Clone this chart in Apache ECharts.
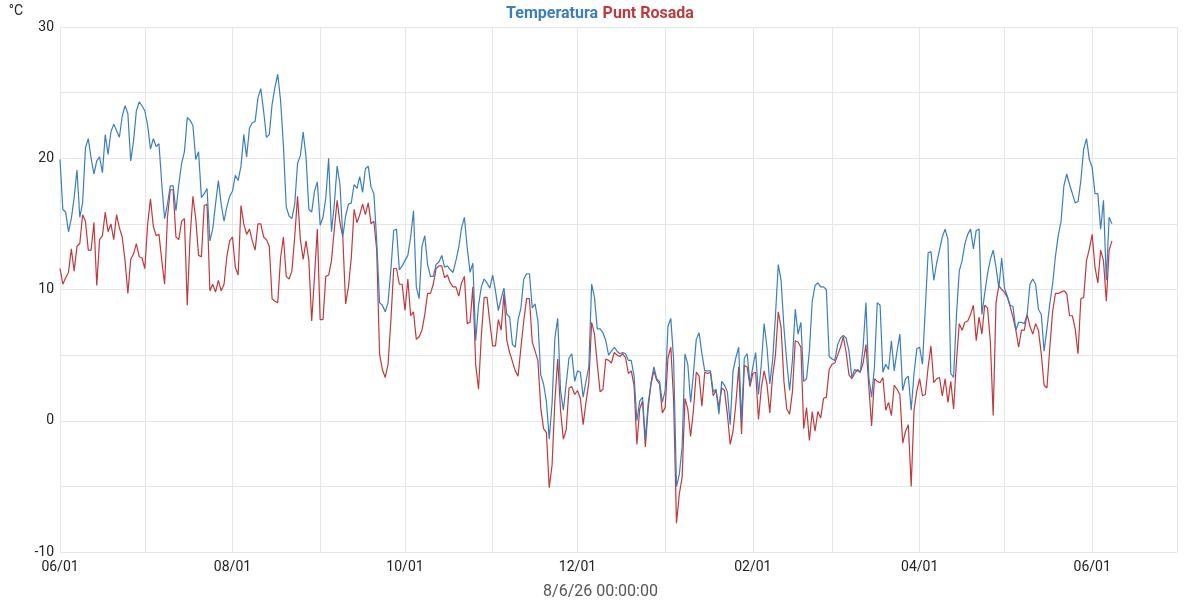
<!DOCTYPE html>
<html>
<head>
<meta charset="utf-8">
<script src="https://cdn.jsdelivr.net/npm/echarts@6/dist/echarts.min.js"></script>
<style>
  html, body { margin: 0; padding: 0; background: #fff; }
  #chart { width: 1200px; height: 600px; }
</style>
</head>
<body>
<div id="chart"></div>
<script>
// daily readings, first one on 2025-06-01
const startDay = [2025, 5, 1];

const temperatura = [
  19.9, 16.1, 15.9, 14.4, 15.4, 17.0, 19.1, 15.5, 16.6, 20.8,
  21.5, 20.0, 18.8, 19.8, 20.1, 18.9, 21.8, 20.3, 22.0, 22.6,
  22.1, 21.6, 23.2, 24.0, 23.4, 19.8, 21.3, 23.6, 24.3, 24.0,
  23.6, 22.5, 20.7, 21.5, 20.9, 21.1, 18.0, 15.4, 16.5, 17.9,
  17.9, 16.0, 18.0, 19.6, 20.5, 23.1, 22.9, 22.5, 19.9, 20.5,
  17.0, 17.3, 17.7, 13.7, 14.6, 16.5, 18.3, 16.5, 15.2, 16.3,
  17.1, 17.5, 18.7, 18.3, 19.4, 21.8, 20.1, 22.3, 22.7, 22.8,
  24.6, 25.3, 23.6, 21.6, 21.8, 24.1, 25.4, 26.4, 24.4, 21.0,
  16.3, 15.6, 15.4, 16.5, 19.6, 20.2, 22.0, 20.1, 16.1, 15.9,
  17.5, 18.2, 14.9, 15.5, 17.0, 20.0, 14.4, 16.5, 19.4, 18.0,
  14.0, 15.6, 16.5, 16.6, 18.0, 17.7, 18.6, 17.4, 19.2, 19.4,
  17.8, 17.3, 13.7, 9.0, 8.8, 8.3, 9.0, 11.5, 14.5, 14.6,
  11.5, 11.8, 12.2, 12.6, 14.0, 16.0, 10.2, 9.3, 13.3, 14.1,
  11.9, 11.0, 11.0, 11.9, 12.1, 12.6, 11.7, 11.8, 11.5, 11.3,
  12.2, 13.2, 14.7, 15.5, 13.2, 11.3, 12.0, 6.1, 8.8, 10.2,
  10.8, 10.5, 10.1, 11.1, 9.9, 8.4, 9.3, 10.1, 8.1, 7.9,
  5.8, 5.6, 7.7, 8.6, 10.8, 11.2, 11.2, 8.6, 8.9, 7.6,
  3.5, 2.8, 1.5, -1.4, 1.3, 6.3, 7.8, 2.3, 0.8, 2.8,
  4.8, 5.1, 3.0, 3.8, 3.7, 1.8, 3.0, 4.1, 10.4, 9.4,
  7.0, 7.0, 6.7, 6.1, 5.0, 5.3, 5.6, 5.3, 5.1, 5.2,
  5.1, 4.6, 4.6, 3.4, 0.0, 1.5, 1.8, -1.4, 1.3, 2.9,
  4.1, 3.2, 3.0, 1.4, 2.3, 7.2, 7.8, 4.6, -5.0, -4.1,
  -2.0, 5.1, 4.3, 1.4, 3.6, 6.2, 6.7, 5.1, 3.8, 3.8,
  3.8, 2.2, 2.4, 0.5, 3.0, 2.7, 2.2, -0.3, 3.8, 4.8,
  5.6, 0.0, 4.8, 5.1, 2.8, 4.1, 5.2, 2.0, 4.3, 7.4,
  5.6, 2.8, 4.6, 8.0, 11.9, 10.7, 7.1, 4.5, 2.3, 4.6,
  8.5, 6.6, 7.5, 3.0, 3.2, 5.3, 9.1, 10.3, 10.5, 10.2,
  10.2, 10.0, 4.9, 4.7, 4.6, 5.8, 6.3, 6.5, 6.3, 5.3,
  3.3, 3.9, 3.8, 3.7, 5.6, 9.0, 3.3, 1.8, 4.1, 9.0,
  8.8, 3.7, 4.3, 3.9, 6.1, 3.8, 5.3, 6.6, 2.3, 3.2,
  3.4, 0.8, 3.6, 5.5, 5.6, 4.3, 8.6, 12.8, 12.9, 10.7,
  12.0, 13.0, 14.0, 14.6, 13.8, 3.6, 3.3, 8.0, 11.4, 12.2,
  13.5, 14.2, 14.6, 13.1, 14.5, 14.6, 8.1, 9.7, 11.2, 12.3,
  13.0, 11.7, 10.1, 12.4, 10.1, 9.5, 8.8, 8.7, 6.9, 7.5,
  7.5, 7.4, 8.1, 10.4, 10.8, 10.4, 8.5, 8.1, 5.3, 7.0,
  8.9, 10.4, 12.5, 14.1, 15.2, 17.9, 18.8, 18.0, 17.3, 16.6,
  16.7, 18.3, 20.7, 21.5, 19.9, 19.3, 17.3, 17.3, 14.6, 16.8,
  10.7, 15.5, 15.0
];

const puntRosada = [
  11.6, 10.4, 10.9, 11.3, 13.1, 11.4, 13.3, 13.5, 15.7, 15.2,
  13.0, 13.0, 15.1, 10.3, 13.8, 14.1, 15.9, 14.4, 15.0, 13.8,
  15.7, 14.7, 14.0, 12.2, 9.7, 12.3, 12.7, 13.5, 12.5, 12.4,
  11.6, 15.0, 16.9, 14.8, 14.1, 14.2, 12.2, 10.4, 15.5, 17.6,
  17.6, 14.0, 13.8, 15.2, 15.4, 8.8, 14.0, 17.1, 15.4, 12.6,
  12.5, 16.4, 16.5, 9.9, 10.4, 9.8, 10.7, 9.9, 10.4, 12.5,
  13.7, 14.0, 11.7, 11.1, 16.4, 15.0, 14.2, 14.6, 13.7, 13.0,
  15.0, 15.0, 14.0, 13.8, 13.3, 9.3, 9.1, 9.0, 12.4, 14.0,
  11.0, 10.8, 11.4, 14.0, 17.1, 13.8, 12.3, 13.7, 12.2, 7.6,
  11.0, 14.6, 7.7, 7.7, 11.0, 11.1, 12.2, 14.6, 16.8, 15.1,
  14.0, 8.9, 10.2, 12.4, 16.1, 15.1, 15.7, 16.5, 15.7, 16.6,
  15.0, 15.2, 13.0, 5.1, 3.9, 3.3, 4.3, 7.6, 11.6, 11.6,
  10.4, 10.4, 8.4, 10.8, 8.0, 8.3, 6.2, 6.4, 6.9, 8.1,
  9.7, 9.7, 10.4, 11.6, 11.8, 11.8, 10.9, 11.1, 10.5, 10.2,
  10.2, 9.5, 10.5, 11.0, 7.4, 7.5, 10.2, 4.3, 2.4, 6.5,
  9.4, 9.4, 7.5, 5.7, 5.7, 7.7, 6.9, 9.7, 6.1, 5.2,
  4.5, 3.8, 3.4, 5.6, 7.6, 9.3, 9.3, 6.0, 5.3, 4.6,
  1.0, -0.6, -0.9, -5.1, -3.4, 1.5, 4.7, 0.8, -1.4, -0.7,
  2.5, 2.6, 2.0, 2.3, 1.7, -0.3, 1.4, 2.9, 7.5, 6.6,
  4.3, 2.2, 2.4, 4.7, 4.6, 4.4, 5.2, 5.0, 4.9, 5.1,
  4.8, 3.6, 3.8, 2.7, -1.8, 0.9, 1.5, -2.0, 1.0, 2.8,
  3.8, 3.1, 2.8, 0.6, 1.0, 4.8, 5.6, 1.5, -7.8, -5.6,
  -4.3, 1.7, 0.9, -1.2, 0.8, 3.7, 3.4, 1.1, 3.7, 3.6,
  3.7, 1.9, 2.3, 1.0, 2.5, 2.3, 0.5, -1.8, -0.8, 1.3,
  4.1, -1.0, 4.2, 4.1, 2.6, 3.6, 3.7, 0.1, 2.5, 3.8,
  2.8, 0.6, 3.4, 5.0, 8.3, 7.1, 3.0, 0.9, 0.5, 2.2,
  6.1, 6.0, 5.6, -0.6, 1.0, -1.5, 0.7, -0.8, 0.7, 0.2,
  1.7, 1.8, 3.9, 4.3, 4.4, 5.0, 5.6, 6.4, 5.2, 3.5,
  3.2, 3.6, 3.9, 3.7, 4.4, 5.8, 2.7, -0.4, 3.2, 3.0,
  2.9, 3.3, 0.8, 1.4, 0.4, 2.7, 2.4, 2.0, -1.7, -0.8,
  -0.3, -5.0, 0.8, 2.3, 3.2, 1.9, 2.0, 4.1, 5.7, 2.9,
  3.2, 3.3, 1.9, 3.2, 1.4, 3.0, 0.9, 4.5, 7.4, 6.9,
  7.5, 7.6, 8.1, 8.8, 6.1, 7.9, 6.6, 8.8, 8.6, 6.0,
  0.4, 9.0, 10.3, 10.0, 9.8, 9.4, 8.7, 7.9, 6.9, 5.6,
  6.9, 6.9, 8.1, 7.2, 6.6, 7.4, 6.9, 5.1, 2.7, 2.5,
  5.5, 8.3, 9.7, 9.7, 9.8, 9.9, 9.7, 8.0, 8.0, 7.0,
  5.1, 9.3, 9.4, 12.2, 13.1, 14.2, 11.7, 10.5, 13.0, 12.2,
  9.1, 13.0, 13.7
];

const yTicks = [-10, 0, 10, 20, 30];
const stamp = '8/6/26 00:00:00';

function dayOf(i) {
  return new Date(startDay[0], startDay[1], startDay[2] + i).getTime();
}
const toPairs = (arr) => arr.map((v, i) => [dayOf(i), v]);

const blue = '#3b7ebf';
const red = '#c0393c';

const chart = echarts.init(document.getElementById('chart'), null, { renderer: 'canvas' });

chart.setOption({
  animation: false,
  textStyle: { fontFamily: 'Roboto' },
  title: {
    left: 'center',
    top: 0,
    text: '{a|Temperatura} {b|Punt Rosada}',
    textStyle: {
      rich: {
        a: { color: blue, fontSize: 16, fontWeight: 'bold', fontFamily: 'Roboto' },
        b: { color: red, fontSize: 16, fontWeight: 'bold', fontFamily: 'Roboto' }
      }
    }
  },
  grid: { left: 60, right: 23, top: 27, bottom: 48, containLabel: false, outerBoundsMode: 'none' },
  xAxis: {
    type: 'time',
    min: new Date(2025, 5, 1).getTime(),
    max: new Date(2026, 6, 1).getTime(),
    splitNumber: 13,
    minInterval: 28 * 86400000,
    maxInterval: 31 * 86400000,
    name: stamp,
    nameLocation: 'middle',
    nameGap: 32,
    // page-centred rather than axis-centred
    nameTextStyle: { color: '#555', fontSize: 16, padding: [0, 36, 0, 0] },
    axisLine: { show: false },
    axisTick: { show: false },
    axisLabel: {
      color: '#222',
      fontSize: 14,
      margin: 8,
      hideOverlap: false,
      formatter: (val) => {
        const d = new Date(val);
        if (d.getDate() !== 1 || d.getMonth() % 2 === 0) return '';
        const mm = String(d.getMonth() + 1).padStart(2, '0');
        return mm + '/01';
      }
    },
    splitLine: { show: true, lineStyle: { color: '#e6e6e6', width: 1 } }
  },
  yAxis: {
    type: 'value',
    min: -10,
    max: 30,
    interval: 5,
    name: '°C',
    nameLocation: 'end',
    nameGap: 9,
    nameTextStyle: { color: '#222', fontSize: 14, align: 'right', padding: [0, 37, 0, 0] },
    axisLine: { show: false },
    axisTick: { show: false },
    axisLabel: {
      color: '#222',
      fontSize: 14,
      margin: 6,
      formatter: (v) => (yTicks.includes(v) ? String(v) : '')
    },
    splitLine: { show: true, lineStyle: { color: '#e6e6e6', width: 1 } }
  },
  series: [
    {
      name: 'Temperatura',
      type: 'line',
      data: toPairs(temperatura),
      showSymbol: false,
      symbol: 'none',
      lineStyle: { color: blue, width: 1.2 },
      itemStyle: { color: blue },
      z: 3
    },
    {
      name: 'Punt Rosada',
      type: 'line',
      data: toPairs(puntRosada),
      showSymbol: false,
      symbol: 'none',
      lineStyle: { color: red, width: 1.2 },
      itemStyle: { color: red },
      z: 2
    }
  ]
});
</script>
</body>
</html>
